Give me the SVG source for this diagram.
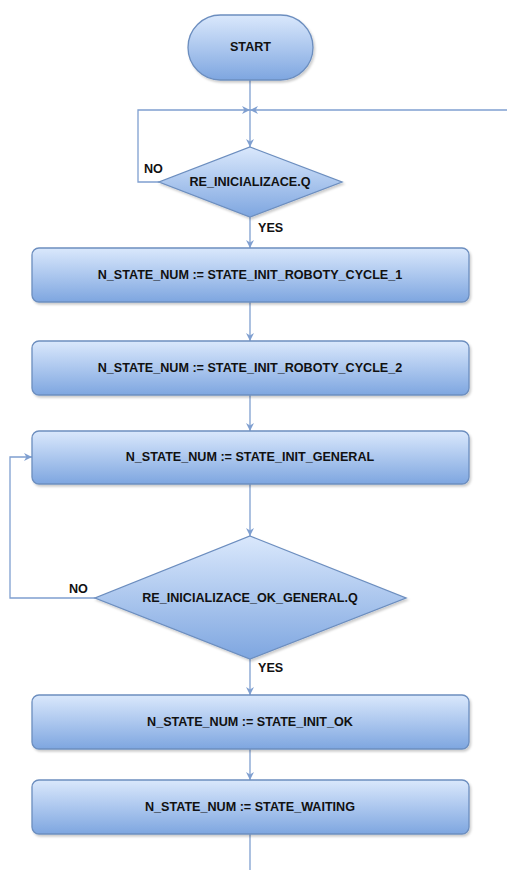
<svg xmlns="http://www.w3.org/2000/svg" width="507" height="870" viewBox="0 0 507 870">
<defs>
<linearGradient id="g" x1="0" y1="0" x2="0" y2="1">
<stop offset="0" stop-color="#dae8fc"/>
<stop offset="1" stop-color="#7ea6e0"/>
</linearGradient>
<filter id="sh" x="-10%" y="-10%" width="130%" height="140%">
<feDropShadow dx="1.5" dy="2" stdDeviation="1.2" flood-color="#000" flood-opacity="0.2"/>
</filter>
<marker id="ar" viewBox="0 0 10 10" refX="10" refY="5" markerWidth="8" markerHeight="8" markerUnits="userSpaceOnUse" orient="auto">
<path d="M0,0 L10,5 L0,10 L3,5 Z" fill="#7f9fd0"/>
</marker>
</defs>
<style>
.n{fill:url(#g);stroke:#6c8ebf;stroke-width:1.3;filter:url(#sh)}
.t{font-family:"Liberation Sans",Arial,sans-serif;font-size:12.6px;font-weight:bold;fill:#111;text-anchor:middle;dominant-baseline:central}
.l{font-family:"Liberation Sans",Arial,sans-serif;font-size:12.6px;font-weight:bold;fill:#111}
.c{fill:none;stroke:#7f9fd0;stroke-width:1.3}
</style>
<rect width="507" height="870" fill="#fff"/>
<g id="connectors">
<path class="c" d="M250,80 V147" marker-end="url(#ar)"/>
<path class="c" d="M159,182 H138 V110 H250" marker-end="url(#ar)"/>
<path class="c" d="M507,110 H250" marker-end="url(#ar)"/>
<path class="c" d="M250,217 V248" marker-end="url(#ar)"/>
<path class="c" d="M250,302 V341" marker-end="url(#ar)"/>
<path class="c" d="M250,395 V431" marker-end="url(#ar)"/>
<path class="c" d="M250,484 V536" marker-end="url(#ar)"/>
<path class="c" d="M95,598 H10 V457 H32" marker-end="url(#ar)"/>
<path class="c" d="M250,659 V695" marker-end="url(#ar)"/>
<path class="c" d="M250,749 V780" marker-end="url(#ar)"/>
<path class="c" d="M250,834 V870"/>
<text class="l" x="144" y="173">NO</text>
<text class="l" x="258" y="232">YES</text>
<text class="l" x="69" y="593">NO</text>
<text class="l" x="258" y="672">YES</text>
</g>
<g id="start">
<rect class="n" x="188" y="15" width="125" height="65" rx="32.5" ry="32.5"/>
<text class="t" x="250.5" y="47">START</text>
</g>
<g id="dec1">
<polygon class="n" points="250,147 342,182 250,217 159,182"/>
<text class="t" x="250" y="182">RE_INICIALIZACE.Q</text>
</g>
<g id="box1">
<rect class="n" x="32" y="248" width="437" height="54" rx="7"/>
<text class="t" x="250" y="275">N_STATE_NUM := STATE_INIT_ROBOTY_CYCLE_1</text>
</g>
<g id="box2">
<rect class="n" x="32" y="341" width="437" height="54" rx="7"/>
<text class="t" x="250" y="368">N_STATE_NUM := STATE_INIT_ROBOTY_CYCLE_2</text>
</g>
<g id="box3">
<rect class="n" x="32" y="431" width="437" height="53" rx="7"/>
<text class="t" x="250" y="457">N_STATE_NUM := STATE_INIT_GENERAL</text>
</g>
<g id="dec2">
<polygon class="n" points="250,536 406,598 250,659 95,598"/>
<text class="t" x="250" y="598">RE_INICIALIZACE_OK_GENERAL.Q</text>
</g>
<g id="box4">
<rect class="n" x="32" y="695" width="437" height="54" rx="7"/>
<text class="t" x="250" y="722">N_STATE_NUM := STATE_INIT_OK</text>
</g>
<g id="box5">
<rect class="n" x="32" y="780" width="437" height="54" rx="7"/>
<text class="t" x="250" y="807">N_STATE_NUM := STATE_WAITING</text>
</g>
</svg>
